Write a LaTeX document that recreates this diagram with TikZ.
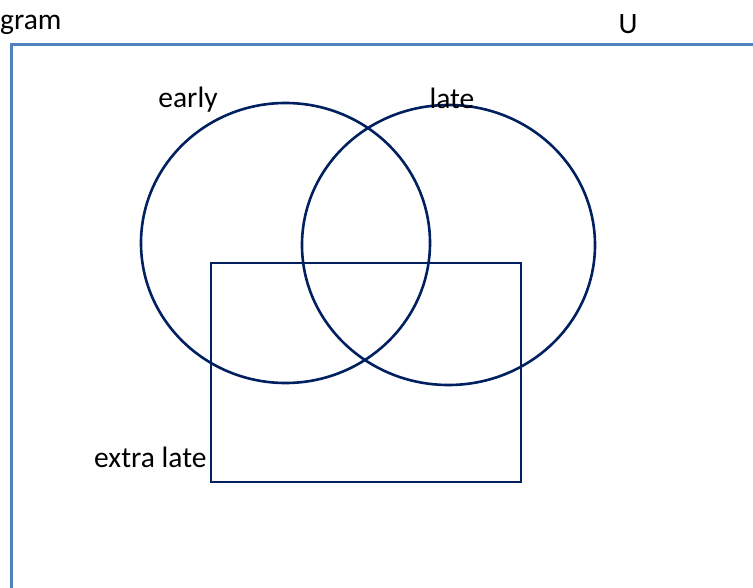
\documentclass[tikz,border=0pt]{standalone}
\usepackage{fontspec}
\setmainfont{Carlito}
\usetikzlibrary{shapes, shapes.geometric, positioning}
\definecolor{navy}{HTML}{002060}
\definecolor{frameblue}{HTML}{4F81BD}

\begin{document}
\begin{tikzpicture}[x=1pt, y=-1pt]
% Define styles
\tikzstyle{setring} = [ellipse, draw=navy, line width=2.6pt, inner sep=0pt]
\tikzstyle{setbox} = [rectangle, draw=navy, line width=2.6pt, inner sep=0pt]
\tikzstyle{lbl} = [font=\fontsize{29.5}{34}\selectfont, inner sep=0pt]

\useasboundingbox (0,0) rectangle (753,588);

% Universe
\draw [frameblue, line width=3pt] (11,588) -- (11,45) -- (753,45);
\node (title) [lbl, anchor=west] at (0,25) {gram};
\node (universe) [lbl] at (628,24) {U};

% Sets
\node (early) [setring, minimum width=289pt, minimum height=280pt] at (285.5,243) {};
\node (late) [setring, minimum width=293pt, minimum height=280pt] at (448.5,245) {};
\node (extralate) [setbox, minimum width=310pt, minimum height=219pt] at (366,372.5) {};

% Labels
\node (earlylbl) [lbl] at (188,100) {early};
\node (latelbl) [lbl] at (452,98) {late};
\node (extralbl) [lbl, anchor=east] at ([xshift=-3pt]extralate.west |- 0,457) {extra late};
\end{tikzpicture}
\end{document}
